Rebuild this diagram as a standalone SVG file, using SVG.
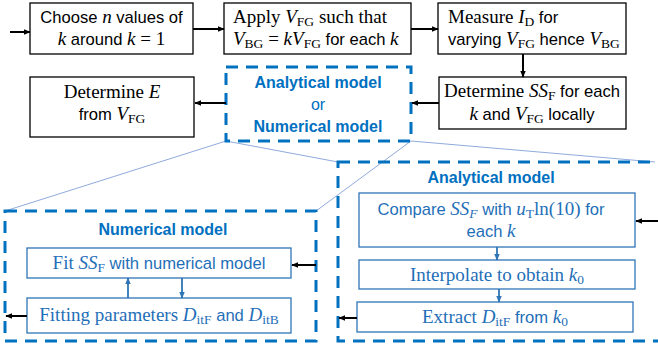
<svg xmlns="http://www.w3.org/2000/svg" width="658" height="350" viewBox="0 0 658 350">
  <style>
    .box{fill:#fff;stroke:#000;stroke-width:1.3}
    .ibox{fill:#fff;stroke:#2E75B6;stroke-width:1.3}
    .dash{fill:none;stroke:#0070C0;stroke-width:3;stroke-dasharray:12 8}
    .guide{stroke:#8FAADC;stroke-width:1;fill:none}
    .t{font-family:"Liberation Sans",Arial,sans-serif;font-size:16.6px;fill:#000}
    .bl{fill:#1F6FB8}
    .s{font-family:"Liberation Serif","Times New Roman",serif;font-size:19px}
    .m{font-family:"Liberation Serif","Times New Roman",serif;font-style:italic;font-size:19px}
    .sub{font-family:"Liberation Serif","Times New Roman",serif;font-size:13.5px}
    .title{font-family:"Liberation Sans",Arial,sans-serif;font-weight:bold;font-size:16px;fill:#0070C0}
    .conn{stroke:#000;stroke-width:2;fill:none}
    .bconn{stroke:#2E75B6;stroke-width:1.8;fill:none}
  </style>
  <defs>
    <marker id="ah" viewBox="0 0 10 10" refX="9" refY="5" markerWidth="7" markerHeight="7" markerUnits="userSpaceOnUse" orient="auto">
      <path d="M0,1 L10,5 L0,9 z" fill="#000"/>
    </marker>
    <marker id="bh" viewBox="0 0 10 10" refX="9" refY="5" markerWidth="7" markerHeight="7" markerUnits="userSpaceOnUse" orient="auto">
      <path d="M0,1 L10,5 L0,9 z" fill="#2E75B6"/>
    </marker>
  </defs>

  <!-- zoom guide lines -->
  <g id="guides">
    <line class="guide" x1="226" y1="141" x2="5" y2="211"/>
    <line class="guide" x1="411" y1="141" x2="316" y2="211"/>
    <line class="guide" x1="226" y1="141" x2="338" y2="162"/>
    <line class="guide" x1="411" y1="141" x2="655" y2="162"/>
  </g>

  <!-- top row -->
  <g id="choose">
    <rect class="box" x="30" y="3" width="163" height="51"/>
    <text class="t" x="111.5" y="23" text-anchor="middle">Choose <tspan class="m">n</tspan> values of</text>
    <text class="t" x="111.5" y="45" text-anchor="middle"><tspan class="m">k</tspan> around <tspan class="m">k</tspan><tspan class="s"> = 1</tspan></text>
  </g>
  <g id="apply">
    <rect class="box" x="224" y="3" width="187" height="51"/>
    <text class="t" x="233" y="23"><tspan class="s">Apply </tspan><tspan class="m">V</tspan><tspan class="sub" dy="3">FG</tspan><tspan class="s" dy="-3"> such that</tspan></text>
    <text class="t" x="233" y="45"><tspan class="m">V</tspan><tspan class="sub" dy="3">BG</tspan><tspan class="s" dy="-3"> = </tspan><tspan class="m">kV</tspan><tspan class="sub" dy="3">FG</tspan><tspan dy="-3"> for each </tspan><tspan class="m">k</tspan></text>
  </g>
  <g id="measure">
    <rect class="box" x="438" y="3" width="188" height="51"/>
    <text class="t" x="448" y="23"><tspan class="s">Measure </tspan><tspan class="m">I</tspan><tspan class="sub" dy="3">D</tspan><tspan dy="-3"> for</tspan></text>
    <text class="t" x="448" y="45">varying <tspan class="m">V</tspan><tspan class="sub" dy="3">FG</tspan><tspan dy="-3"> hence </tspan><tspan class="m">V</tspan><tspan class="sub" dy="3">BG</tspan></text>
  </g>

  <!-- second row -->
  <g id="determine-e">
    <rect class="box" x="30" y="77" width="164" height="60"/>
    <text class="t" x="112" y="98" text-anchor="middle"><tspan class="s">Determine </tspan><tspan class="m">E</tspan></text>
    <text class="t" x="112" y="120" text-anchor="middle">from <tspan class="m">V</tspan><tspan class="sub" dy="3">FG</tspan></text>
  </g>
  <g id="model-choice">
    <rect class="dash" x="226" y="67" width="185" height="74"/>
    <text class="title" x="318" y="88" text-anchor="middle">Analytical model</text>
    <text class="title" x="318" y="110" text-anchor="middle" style="font-weight:normal">or</text>
    <text class="title" x="318" y="132" text-anchor="middle">Numerical model</text>
  </g>
  <g id="determine-ss">
    <rect class="box" x="439" y="77" width="187" height="52"/>
    <text class="t" x="532" y="97" text-anchor="middle"><tspan class="s">Determine </tspan><tspan class="m">SS</tspan><tspan class="sub" dy="3">F</tspan><tspan dy="-3"> for each</tspan></text>
    <text class="t" x="532" y="120" text-anchor="middle"><tspan class="m">k</tspan> and <tspan class="m">V</tspan><tspan class="sub" dy="3">FG</tspan><tspan dy="-3"> locally</tspan></text>
  </g>

  <!-- numerical model detail -->
  <g id="numerical">
    <rect class="dash" x="5" y="211" width="311" height="130"/>
    <text class="title" x="163" y="235" text-anchor="middle">Numerical model</text>
  </g>
  <g id="fit">
    <rect class="ibox" x="27" y="248" width="264" height="30"/>
    <text class="t bl" x="159" y="269" text-anchor="middle"><tspan class="s">Fit </tspan><tspan class="m">SS</tspan><tspan class="sub" dy="3">F</tspan><tspan dy="-3"> with numerical model</tspan></text>
  </g>
  <g id="fitting-params">
    <rect class="ibox" x="27" y="298" width="264" height="35"/>
    <text class="t bl" x="159" y="321" text-anchor="middle"><tspan class="s">Fitting parameters </tspan><tspan class="m">D</tspan><tspan class="sub" dy="3">itF</tspan><tspan dy="-3"> and </tspan><tspan class="m">D</tspan><tspan class="sub" dy="3">itB</tspan></text>
  </g>

  <!-- analytical model detail -->
  <g id="analytical">
    <rect class="dash" x="338" y="162" width="324" height="179"/>
    <text class="title" x="491" y="183" text-anchor="middle">Analytical model</text>
  </g>
  <g id="compare">
    <rect class="ibox" x="359" y="193" width="276" height="54"/>
    <text class="t bl" x="491" y="215" text-anchor="middle">Compare <tspan class="m">SS</tspan><tspan class="m" style="font-size:13.5px" dy="3">F</tspan><tspan dy="-3"> with </tspan><tspan class="m">u</tspan><tspan class="sub" dy="3">T</tspan><tspan class="s" dy="-3">ln(10)</tspan> for</text>
    <text class="t bl" x="491" y="237" text-anchor="middle">each <tspan class="m">k</tspan></text>
  </g>
  <g id="interpolate">
    <rect class="ibox" x="359" y="260" width="276" height="29"/>
    <text class="t bl" x="497" y="281" text-anchor="middle"><tspan class="s">Interpolate to obtain </tspan><tspan class="m">k</tspan><tspan class="sub" dy="3">0</tspan></text>
  </g>
  <g id="extract">
    <rect class="ibox" x="357" y="302" width="276" height="30"/>
    <text class="t bl" x="495" y="323" text-anchor="middle"><tspan class="s">Extract </tspan><tspan class="m">D</tspan><tspan class="sub" dy="3">itF</tspan><tspan dy="-3"> from </tspan><tspan class="m">k</tspan><tspan class="sub" dy="3">0</tspan></text>
  </g>

  <!-- connectors -->
  <g id="connectors">
    <line class="conn" x1="10" y1="32" x2="30" y2="32" marker-end="url(#ah)"/>
    <line class="conn" x1="193" y1="29" x2="224" y2="29" marker-end="url(#ah)"/>
    <line class="conn" x1="411" y1="29" x2="438" y2="29" marker-end="url(#ah)"/>
    <line class="conn" x1="523" y1="54" x2="523" y2="77" marker-end="url(#ah)"/>
    <line class="conn" x1="439" y1="103" x2="412" y2="103" marker-end="url(#ah)"/>
    <line class="conn" x1="226" y1="103" x2="195" y2="103" marker-end="url(#ah)"/>
    <line class="conn" x1="316" y1="265" x2="292" y2="265" marker-end="url(#ah)"/>
    <line class="conn" x1="27" y1="316" x2="6" y2="316" marker-end="url(#ah)"/>
    <line class="bconn" x1="128" y1="298" x2="128" y2="278" marker-end="url(#bh)"/>
    <line class="bconn" x1="182" y1="278" x2="182" y2="298" marker-end="url(#bh)"/>
    <line class="conn" x1="658" y1="221" x2="636" y2="221" marker-end="url(#ah)"/>
    <line class="bconn" x1="497" y1="247" x2="497" y2="260" marker-end="url(#bh)"/>
    <line class="bconn" x1="499" y1="289" x2="499" y2="302" marker-end="url(#bh)"/>
    <line class="conn" x1="357" y1="318" x2="339" y2="318" marker-end="url(#ah)"/>
  </g>
</svg>
